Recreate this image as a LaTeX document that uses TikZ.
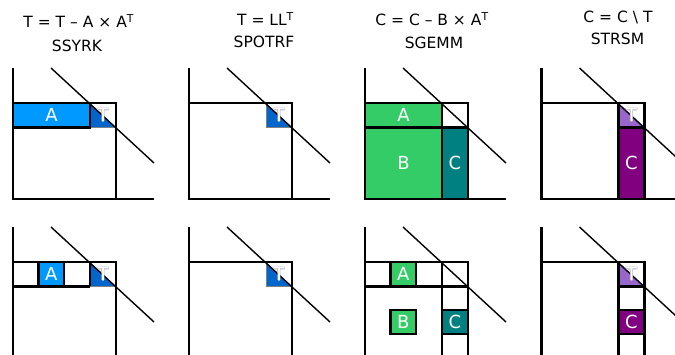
\documentclass[tikz,border=0pt]{standalone}
\usepackage{fontspec}
\setmainfont{DejaVu Sans}
\definecolor{cA}{RGB}{0,153,255}
\definecolor{cT}{RGB}{0,102,204}
\definecolor{cG}{RGB}{51,204,102}
\definecolor{cTeal}{RGB}{0,128,128}
\definecolor{cLav}{RGB}{153,102,204}
\definecolor{cPur}{RGB}{128,0,128}
\tikzset{
  ax/.style={line width=2.2pt},
  diag/.style={line width=1.4pt},
  thinb/.style={draw=gray, line width=0.8pt},
  blk/.style={draw=black, line width=2.2pt, rectangle, inner sep=0pt, outer sep=0pt,
              text=white, font=\fontsize{18}{18}\selectfont},
  lbl/.style={text=white, font=\fontsize{18}{18}\selectfont, inner sep=0pt},
  halo/.style={lbl, text=black!30},
  ttl/.style={font=\fontsize{15.5}{18}\selectfont, inner sep=0pt, anchor=base},
}
% white T with a faint grey outline
\newcommand{\tlabel}[3]{%
  \node[halo] (#1-h1) at ([xshift=0.55pt]#2,#3) {T};
  \node[halo] (#1-h2) at ([xshift=-0.55pt]#2,#3) {T};
  \node[halo] (#1-h3) at ([yshift=0.55pt]#2,#3) {T};
  \node[halo] (#1-h4) at ([yshift=-0.55pt]#2,#3) {T};
  \node[lbl] (#1) at (#2,#3) {T};}
\begin{document}
\begin{tikzpicture}[x=1pt,y=-1pt]
\useasboundingbox (0,0) rectangle (675,355);
\clip (0,0) rectangle (675,355);

% titles
\node[ttl] (t1a) at (78.7,27.3) {T = T – A × A\textsuperscript{T}};
\node[ttl] (t1b) at (77,51.7) {SSYRK};
\node[ttl] (t2a) at (265.5,26) {T = LL\textsuperscript{T}};
\node[ttl] (t2b) at (264,47.3) {SPOTRF};
\node[ttl] (t3a) at (432,26) {C = C – B × A\textsuperscript{T}};
\node[ttl] (t3b) at (434,48.3) {SGEMM};
\node[ttl] (t4a) at (618,22.3) {C = C \textbackslash{} T};
\node[ttl] (t4b) at (617.5,44.3) {STRSM};

% ---------- panel 1 : SSYRK ----------
\begin{scope}[shift={(13,0)}]
  % top
  \fill[cT] (77,103) -- (77,127.5) -- (103,127.5) -- cycle;
  \draw[thinb] (77,127.5) -- (103,127.5);
  \draw[ax] (0,68) -- (0,199) -- (141,199);
  \draw[ax] (0,103) -- (103,103) -- (103,199);
  \node[blk, fill=cA, minimum width=77pt, minimum height=24.5pt] (p1a) at (38.5,115.25) {A};
  \draw[diag] (38,68) -- (141,163);
  \tlabel{p1t}{90}{115.25}
  % bottom
  \fill[cT] (77,262) -- (77,286.5) -- (103,286.5) -- cycle;
  \draw[thinb] (77,286.5) -- (103,286.5);
  \draw[ax] (0,227) -- (0,362);
  \draw[ax] (0,262) -- (103,262) -- (103,362);
  \draw[ax] (0,286.5) -- (77,286.5);
  \draw[ax] (77,262) -- (77,286.5);
  \node[blk, fill=cA, minimum width=25.5pt, minimum height=24.5pt] (p1a2) at (38.25,274.25) {A};
  \draw[diag] (38,227) -- (141,322);
  \tlabel{p1t2}{90}{274.25}
\end{scope}

% ---------- panel 2 : SPOTRF ----------
\begin{scope}[shift={(189,0)}]
  \fill[cT] (77,103) -- (77,127.5) -- (103,127.5) -- cycle;
  \draw[thinb] (77,103) -- (77,127.5) -- (103,127.5);
  \draw[ax] (0,68) -- (0,199) -- (141,199);
  \draw[ax] (0,103) -- (103,103) -- (103,199);
  \draw[diag] (38,68) -- (141,163);
  \tlabel{p2t}{90}{115.25}
  % bottom
  \fill[cT] (77,262) -- (77,286.5) -- (103,286.5) -- cycle;
  \draw[thinb] (77,262) -- (77,286.5) -- (103,286.5);
  \draw[ax] (0,227) -- (0,362);
  \draw[ax] (0,262) -- (103,262) -- (103,362);
  \draw[diag] (38,227) -- (141,322);
  \tlabel{p2t2}{90}{274.25}
\end{scope}

% ---------- panel 3 : SGEMM ----------
\begin{scope}[shift={(365,0)}]
  \node[blk, fill=cG, minimum width=77pt, minimum height=24.5pt] (p3a) at (38.5,115.25) {A};
  \node[blk, fill=cG, minimum width=77pt, minimum height=71.5pt] (p3b) at (38.5,163.25) {B};
  \node[blk, fill=cTeal, minimum width=26pt, minimum height=71.5pt] (p3c) at (90,163.25) {C};
  \draw[ax] (77,103) rectangle (103,127.5);
  \draw[ax] (0,68) -- (0,199) -- (141,199);
  \draw[diag] (38,68) -- (141,163);
  % bottom
  \draw[ax] (0,227) -- (0,362);
  \draw[ax] (0,262) rectangle (103,286.5);
  \draw[ax] (77,262) -- (77,362);
  \draw[ax] (103,262) -- (103,362);
  \node[blk, fill=cG, minimum width=25.5pt, minimum height=24.5pt] (p3a2) at (38.25,274.25) {A};
  \node[blk, fill=cG, minimum width=25.5pt, minimum height=24pt] (p3b2) at (38.25,322) {B};
  \node[blk, fill=cTeal, minimum width=26pt, minimum height=24pt] (p3c2) at (90,322) {C};
  \draw[diag] (38,227) -- (141,322);
\end{scope}

% ---------- panel 4 : STRSM ----------
\begin{scope}[shift={(541.5,0)}]
  \fill[cLav] (77,103) -- (77,127.5) -- (103,127.5) -- cycle;
  \node[blk, fill=cPur, minimum width=26pt, minimum height=71.5pt] (p4c) at (90,163.25) {C};
  \draw[ax] (0,68) -- (0,199) -- (141,199);
  \draw[ax] (0,103) -- (103,103) -- (103,199);
  \draw[ax] (77,103) -- (77,127.5);
  \draw[diag] (38,68) -- (141,163);
  \tlabel{p4t}{90}{115.25}
  % bottom
  \fill[cLav] (77,262) -- (77,286.5) -- (103,286.5) -- cycle;
  \draw[ax] (0,227) -- (0,362);
  \draw[ax] (0,262) -- (103,262) -- (103,362);
  \draw[ax] (77,262) -- (77,362);
  \draw[ax] (77,286.5) -- (103,286.5);
  \node[blk, fill=cPur, minimum width=26pt, minimum height=24pt] (p4c2) at (90,322) {C};
  \draw[diag] (38,227) -- (141,322);
  \tlabel{p4t2}{90}{274.25}
\end{scope}
\end{tikzpicture}
\end{document}
